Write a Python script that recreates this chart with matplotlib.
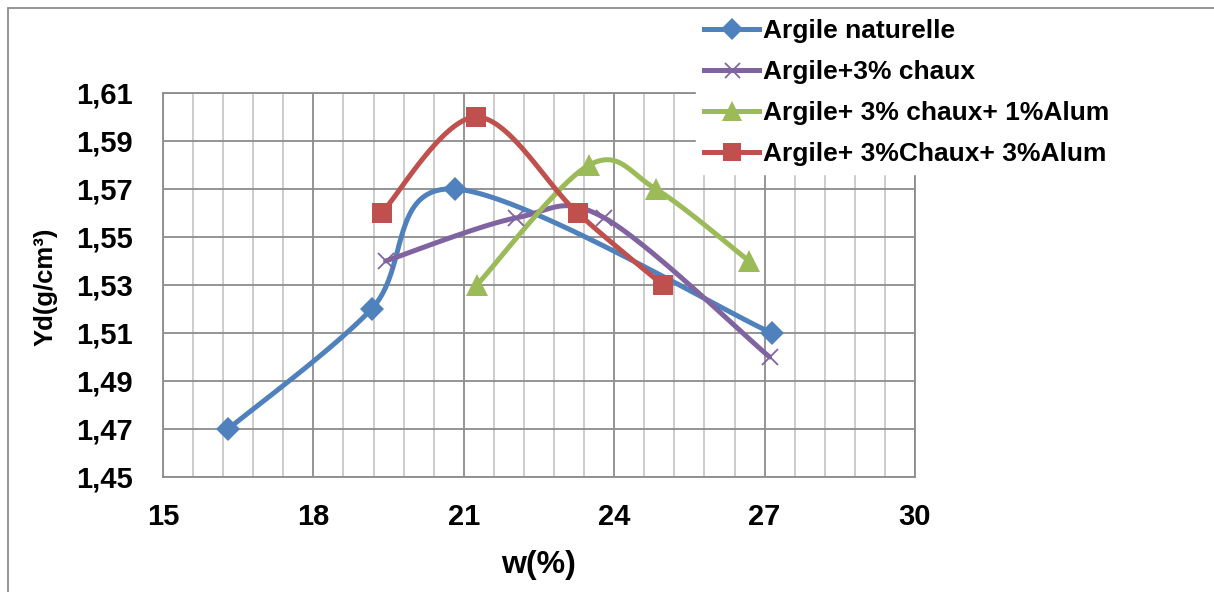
import numpy as np
import matplotlib
matplotlib.use("Agg")
import matplotlib.pyplot as plt
from matplotlib.ticker import FuncFormatter, MultipleLocator
from matplotlib.patches import Rectangle

# Data
series_names = ["Argile naturelle", "Argile+3% chaux",
                "Argile+ 3% chaux+ 1%Alum", "Argile+ 3%Chaux+ 3%Alum"]
w_nat = [16.3, 19.16, 20.83, 27.14]
yd_nat = [1.47, 1.52, 1.57, 1.51]
w_chaux = [19.44, 22.05, 23.8, 27.1]
yd_chaux = [1.54, 1.558, 1.558, 1.50]
w_alum1 = [21.26, 23.5, 24.83, 26.69]
yd_alum1 = [1.53, 1.58, 1.57, 1.54]
w_alum3 = [19.36, 21.25, 23.27, 24.97]
yd_alum3 = [1.56, 1.60, 1.56, 1.53]

x_ticks = [15, 18, 21, 24, 27, 30]
y_ticks = [1.45, 1.47, 1.49, 1.51, 1.53, 1.55, 1.57, 1.59, 1.61]

colors = ["#4F81BD", "#8064A2", "#9BBB59", "#C0504D"]
markers = ["D", "x", "^", "s"]
msizes = [12, 12, 16, 14]

plt.rcParams['font.family'] = ['Liberation Sans', 'DejaVu Sans']
plt.rcParams['font.weight'] = 'bold'


def smooth(x, y, n=40):
    P = np.column_stack([x, y]).astype(float)
    ext = np.vstack([P[0], P, P[-1]])
    out = []
    for i in range(len(P) - 1):
        p0, p1, p2, p3 = ext[i], ext[i + 1], ext[i + 2], ext[i + 3]
        c1 = p1 + (p2 - p0) / 6.0
        c2 = p2 - (p3 - p1) / 6.0
        t = np.linspace(0, 1, n)[:, None]
        seg = (1 - t) ** 3 * p1 + 3 * (1 - t) ** 2 * t * c1 + 3 * (1 - t) * t ** 2 * c2 + t ** 3 * p2
        out.append(seg if i == 0 else seg[1:])
    S = np.vstack(out)
    return S[:, 0], S[:, 1]


W, H = 1214, 592
fig = plt.figure(figsize=(W / 100, H / 100), dpi=100)
L, R, T, B = 163, 915, 93, 477
ax = fig.add_axes([L / W, 1 - B / H, (R - L) / W, (B - T) / H])

ax.set_xlim(15, 30)
ax.set_ylim(1.45, 1.61)
ax.set_xticks(x_ticks)
ax.set_yticks(y_ticks)
ax.xaxis.set_minor_locator(MultipleLocator(0.6))
ax.yaxis.set_major_formatter(FuncFormatter(lambda v, p: f"{v:.2f}".replace('.', ',')))
ax.grid(True, which='major', axis='both', color='#8C8C8C', lw=1.3, zorder=0)
ax.grid(True, which='minor', axis='x', color='#C8C8C8', lw=1.3, zorder=0)
ax.tick_params(which='both', length=0)
ax.tick_params(axis='x', labelsize=21, pad=19)
ax.tick_params(axis='y', labelsize=21, pad=22)
for s in ax.spines.values():
    s.set_color('#8C8C8C')
    s.set_linewidth(1.3)
ax.set_axisbelow(True)

data = [(w_nat, yd_nat), (w_chaux, yd_chaux), (w_alum1, yd_alum1), (w_alum3, yd_alum3)]
handles = []
for (xs, ys), c, m, ms, name in zip(data, colors, markers, msizes, series_names):
    sx, sy = smooth(xs, ys)
    ax.plot(sx, sy, color=c, lw=3.6, solid_capstyle='round', zorder=3)
    mew = 1.3 if m == 'x' else 0
    ax.plot(xs, ys, ls='none', marker=m, ms=ms, color=c, mec=c, mew=mew, zorder=4)
    h, = ax.plot([], [], color=c, lw=3.6, marker=m, ms=ms * 0.9, mec=c, mew=mew, label=name)
    handles.append(h)

fig.text(539 / W, 1 - 565 / H, "w(%)", fontsize=23, ha='center', va='center')
fig.text(46 / W, 1 - 287 / H, "Yd(g/cm³)", fontsize=18.5, ha='center', va='center',
         rotation=90)

leg = fig.legend(handles=handles, loc='upper left', bbox_to_anchor=(696 / W, 1 - 11 / H),
                 frameon=True, fontsize=19, handlelength=2.1, handletextpad=0.15,
                 labelspacing=0.65, borderpad=0.3, borderaxespad=0, numpoints=1)
leg.get_frame().set_facecolor('white')
leg.get_frame().set_edgecolor('white')
leg.get_frame().set_alpha(1)
leg.set_zorder(10)

fig.patches.append(Rectangle((8 / W, -0.1), 1.2, 1.1 - 8 / H, transform=fig.transFigure,
                             fill=False, edgecolor='#8C8C8C', lw=1.3, zorder=20))

fig.savefig("out.png", dpi=100)
